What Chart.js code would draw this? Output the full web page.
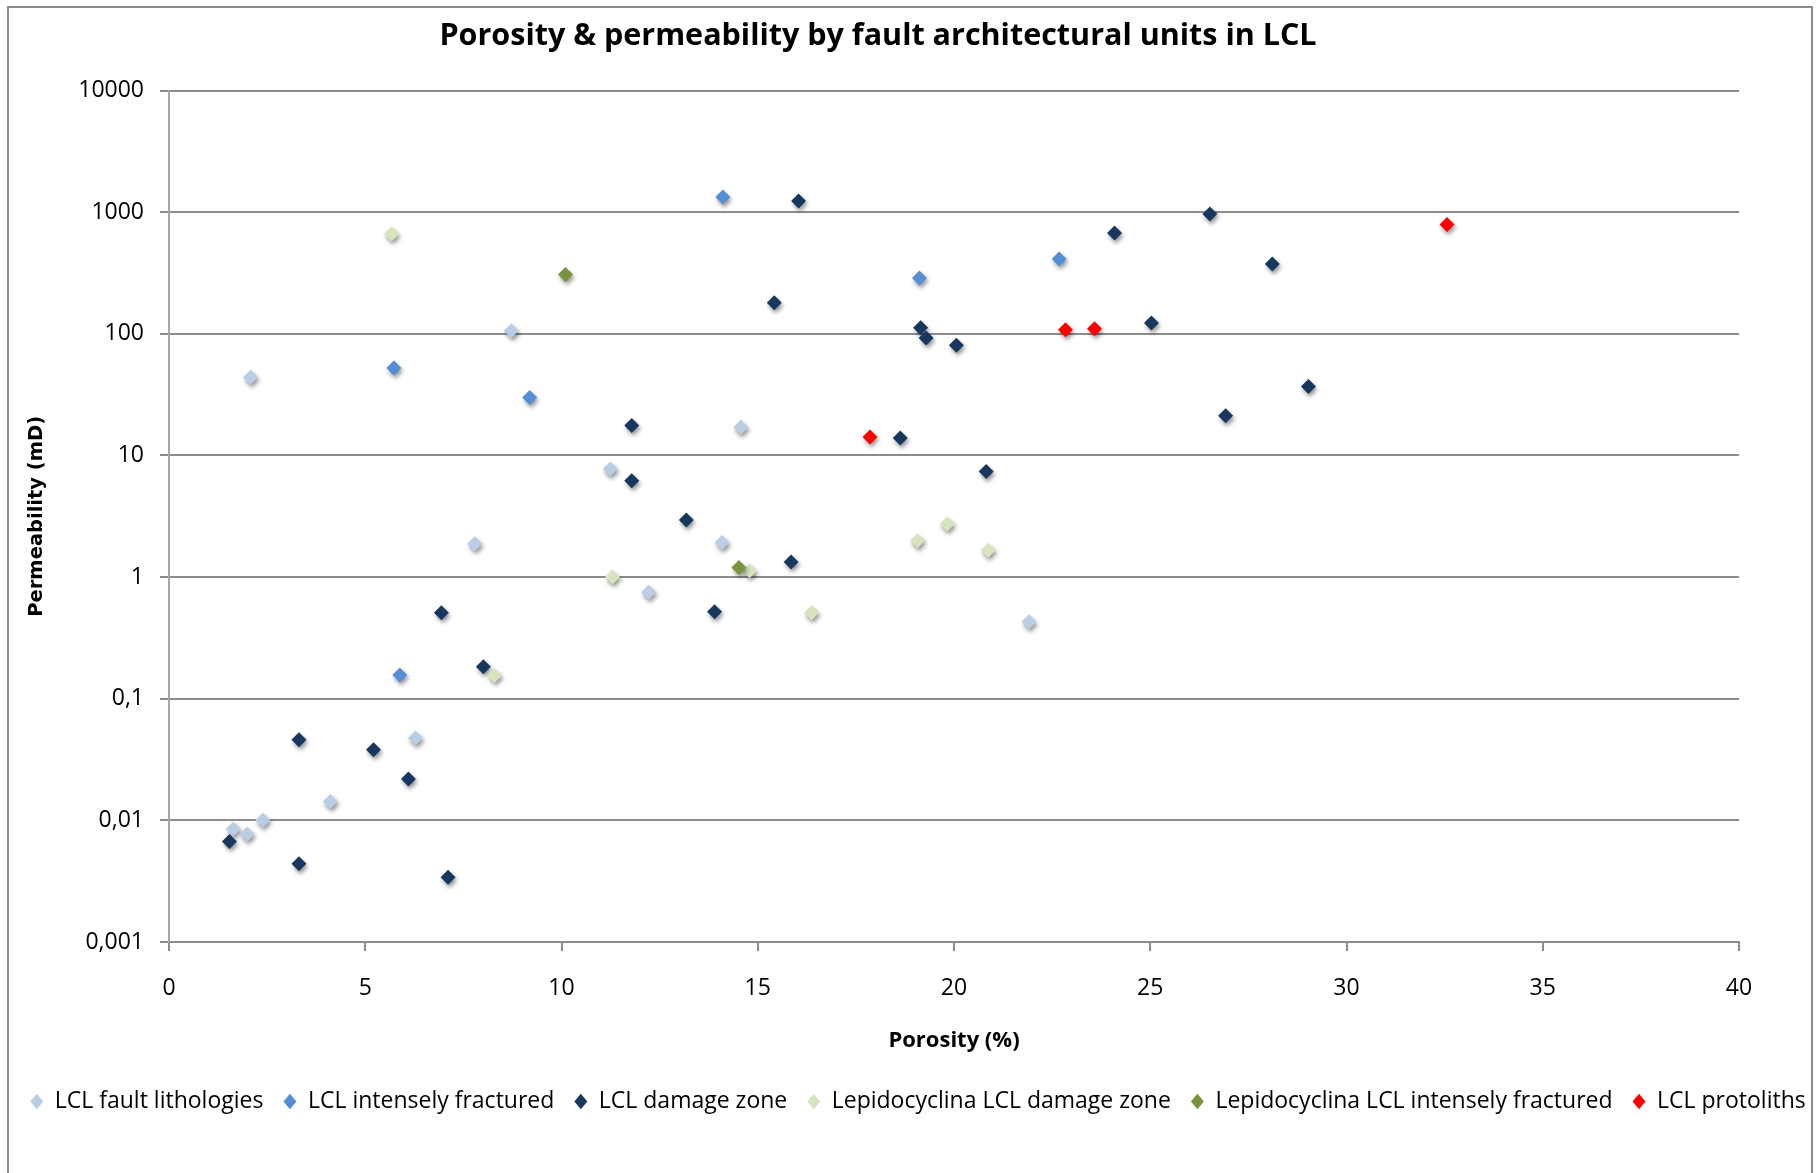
<!DOCTYPE html>
<html>
<head>
<meta charset="utf-8">
<script src="https://cdn.jsdelivr.net/npm/chart.js@4.4.1/dist/chart.umd.min.js"></script>
<style>
  html, body { margin: 0; padding: 0; background: #ffffff; }
  #wrap { position: relative; width: 1818px; height: 1173px; }
</style>
</head>
<body>
<div id="wrap"><canvas id="chart" width="1818" height="1173"></canvas></div>
<script>
// Porosity (%) and permeability (mD) per fault architectural unit
const faultLithPorosity = [2.08, 8.72, 14.57, 11.24, 7.79, 14.09, 12.22, 21.91, 6.28, 4.11, 2.39, 1.64, 1.99];
const faultLithPerm     = [43.9, 106, 17.1, 7.74, 1.88, 1.93, 0.75, 0.43, 0.0475, 0.0143, 0.0100, 0.0085, 0.0077];

const intFracPorosity = [14.11, 22.68, 19.12, 5.73, 9.19, 5.88];
const intFracPerm     = [1336, 413, 288, 52.5, 30, 0.157];

const damagePorosity = [16.04, 26.52, 24.09, 28.11, 15.42, 25.03, 19.15, 19.29, 20.06, 29.03, 26.92, 11.79, 18.63,
                        20.82, 11.79, 13.18, 15.85, 6.94, 13.90, 8.01, 3.31, 5.21, 6.10, 1.54, 3.31, 7.11];
const damagePerm     = [1239, 968, 676, 376, 180, 123, 112, 92.5, 80.5, 37, 21.2, 17.6, 13.9,
                        7.4, 6.2, 2.95, 1.33, 0.51, 0.52, 0.183, 0.046, 0.038, 0.0219, 0.0067, 0.0044, 0.0034];

const lepiDamagePorosity = [5.67, 11.30, 14.79, 19.07, 19.83, 20.87, 16.37, 8.29];
const lepiDamagePerm     = [663, 1.0, 1.13, 1.99, 2.73, 1.66, 0.51, 0.155];

const lepiFracPorosity = [10.10, 14.52];
const lepiFracPerm     = [308, 1.20];

const protolithPorosity = [32.56, 22.84, 23.58, 17.86];
const protolithPerm     = [791, 108, 110, 14.2];

const seriesNames = [
  'LCL fault lithologies',
  'LCL intensely fractured',
  'LCL damage zone',
  'Lepidocyclina LCL damage zone',
  'Lepidocyclina LCL intensely fractured',
  'LCL protoliths'
];
const seriesColors = ['#b9cde5', '#558ed5', '#17375e', '#d7e4bd', '#77933c', '#ff0000'];

const yTickValues = [0.001, 0.01, 0.1, 1, 10, 100, 1000, 10000];
const yTickLabels = ['0,001', '0,01', '0,1', '1', '10', '100', '1000', '10000'];

const chartTitle = 'Porosity & permeability by fault architectural units in LCL';
const xTitle = 'Porosity (%)';
const yTitle = 'Permeability (mD)';

const toPoints = (xs, ys) => xs.map((x, i) => ({ x: x, y: ys[i] }));
const seriesData = [
  toPoints(faultLithPorosity, faultLithPerm),
  toPoints(intFracPorosity, intFracPerm),
  toPoints(damagePorosity, damagePerm),
  toPoints(lepiDamagePorosity, lepiDamagePerm),
  toPoints(lepiFracPorosity, lepiFracPerm),
  toPoints(protolithPorosity, protolithPerm)
];

const GRID = '#8c8c8c';
const FONT = '"Open Sans", "Noto Sans", sans-serif';

// Soft drop shadow under the markers
const markerShadow = {
  id: 'markerShadow',
  beforeDatasetsDraw(chart) {
    const ctx = chart.ctx;
    ctx.save();
    ctx.shadowColor = 'rgba(0,0,0,0.42)';
    ctx.shadowBlur = 4;
    ctx.shadowOffsetX = 1.5;
    ctx.shadowOffsetY = 3;
  },
  afterDatasetsDraw(chart) {
    chart.ctx.restore();
  }
};

// Outer frame around the whole chart
const frame = {
  id: 'frame',
  afterDraw(chart) {
    const ctx = chart.ctx;
    ctx.save();
    ctx.strokeStyle = '#8a8a8a';
    ctx.lineWidth = 2;
    ctx.beginPath();
    ctx.moveTo(8, 1180);
    ctx.lineTo(8, 7);
    ctx.lineTo(1812, 7);
    ctx.lineTo(1812, 1180);
    ctx.stroke();
    ctx.restore();
  }
};

// Horizontal placement of the title and legend blocks
const blockShift = {
  id: 'blockShift',
  afterLayout(chart) {
    if (chart.titleBlock) { chart.titleBlock.left -= 31; chart.titleBlock.right -= 31; }
    if (chart.legend) { chart.legend.left += 9; chart.legend.right += 9; }
  }
};

new Chart(document.getElementById('chart'), {
  type: 'scatter',
  data: {
    datasets: seriesData.map((pts, i) => ({
      label: seriesNames[i],
      data: pts,
      order: -i,
      backgroundColor: seriesColors[i],
      borderColor: seriesColors[i],
      borderWidth: 0,
      pointStyle: 'rectRot',
      pointRadius: 7.5,
      pointHoverRadius: 7.5
    }))
  },
  options: {
    responsive: false,
    animation: false,
    devicePixelRatio: 1,
    layout: { padding: { left: 0, right: 0, top: 0, bottom: 50 } },
    scales: {
      x: {
        type: 'linear',
        min: 0,
        max: 40,
        ticks: { stepSize: 5, color: '#000', font: { family: FONT, size: 23 }, padding: 24, maxRotation: 0 },
        grid: { display: true, drawOnChartArea: false, drawTicks: true, tickLength: 9, color: GRID, lineWidth: 2 },
        border: { display: true, color: GRID, width: 2 },
        title: { display: true, text: xTitle, color: '#000', font: { family: FONT, size: 22, weight: 'bold' }, padding: { top: 0, bottom: 16 } },
        afterFit(scale) { scale.height = 128; }
      },
      y: {
        type: 'logarithmic',
        position: 'left',
        min: 0.001,
        max: 10000,
        afterBuildTicks(scale) { scale.ticks = yTickValues.map(v => ({ value: v })); },
        ticks: {
          color: '#000',
          font: { family: FONT, size: 23 },
          padding: 16,
          autoSkip: false,
          callback(value) {
            const idx = yTickValues.findIndex(v => Math.abs(Math.log10(v) - Math.log10(value)) < 1e-6);
            return idx >= 0 ? yTickLabels[idx] : '';
          }
        },
        grid: { display: true, drawOnChartArea: true, drawTicks: true, tickLength: 9, color: GRID, lineWidth: 2 },
        border: { display: true, color: '#a6a6a6', width: 2 },
        title: { display: true, text: yTitle, color: '#000', font: { family: '"DejaVu Sans", Verdana, sans-serif', size: 19.5, weight: 'bold' }, padding: { top: 25, bottom: 0 } },
        afterFit(scale) { scale.width = 169; }
      },
      gutter: {
        type: 'linear',
        position: 'right',
        display: true,
        grid: { display: false, drawTicks: false },
        border: { display: false },
        ticks: { display: false },
        afterFit(scale) { scale.width = 79; }
      }
    },
    plugins: {
      title: {
        display: true,
        text: chartTitle,
        color: '#000',
        font: { family: FONT, size: 30.5, weight: 'bold' },
        padding: { top: 18, bottom: 36 }
      },
      legend: {
        display: true,
        position: 'bottom',
        align: 'center',
        labels: {
          usePointStyle: true,
          pointStyleWidth: 13,
          boxHeight: 11,
          padding: 20,
          color: '#000',
          font: { family: FONT, size: 23 },
          sort: (a, b) => a.datasetIndex - b.datasetIndex
        }
      },
      tooltip: { enabled: false }
    }
  },
  plugins: [markerShadow, frame, blockShift]
});
</script>
</body>
</html>
